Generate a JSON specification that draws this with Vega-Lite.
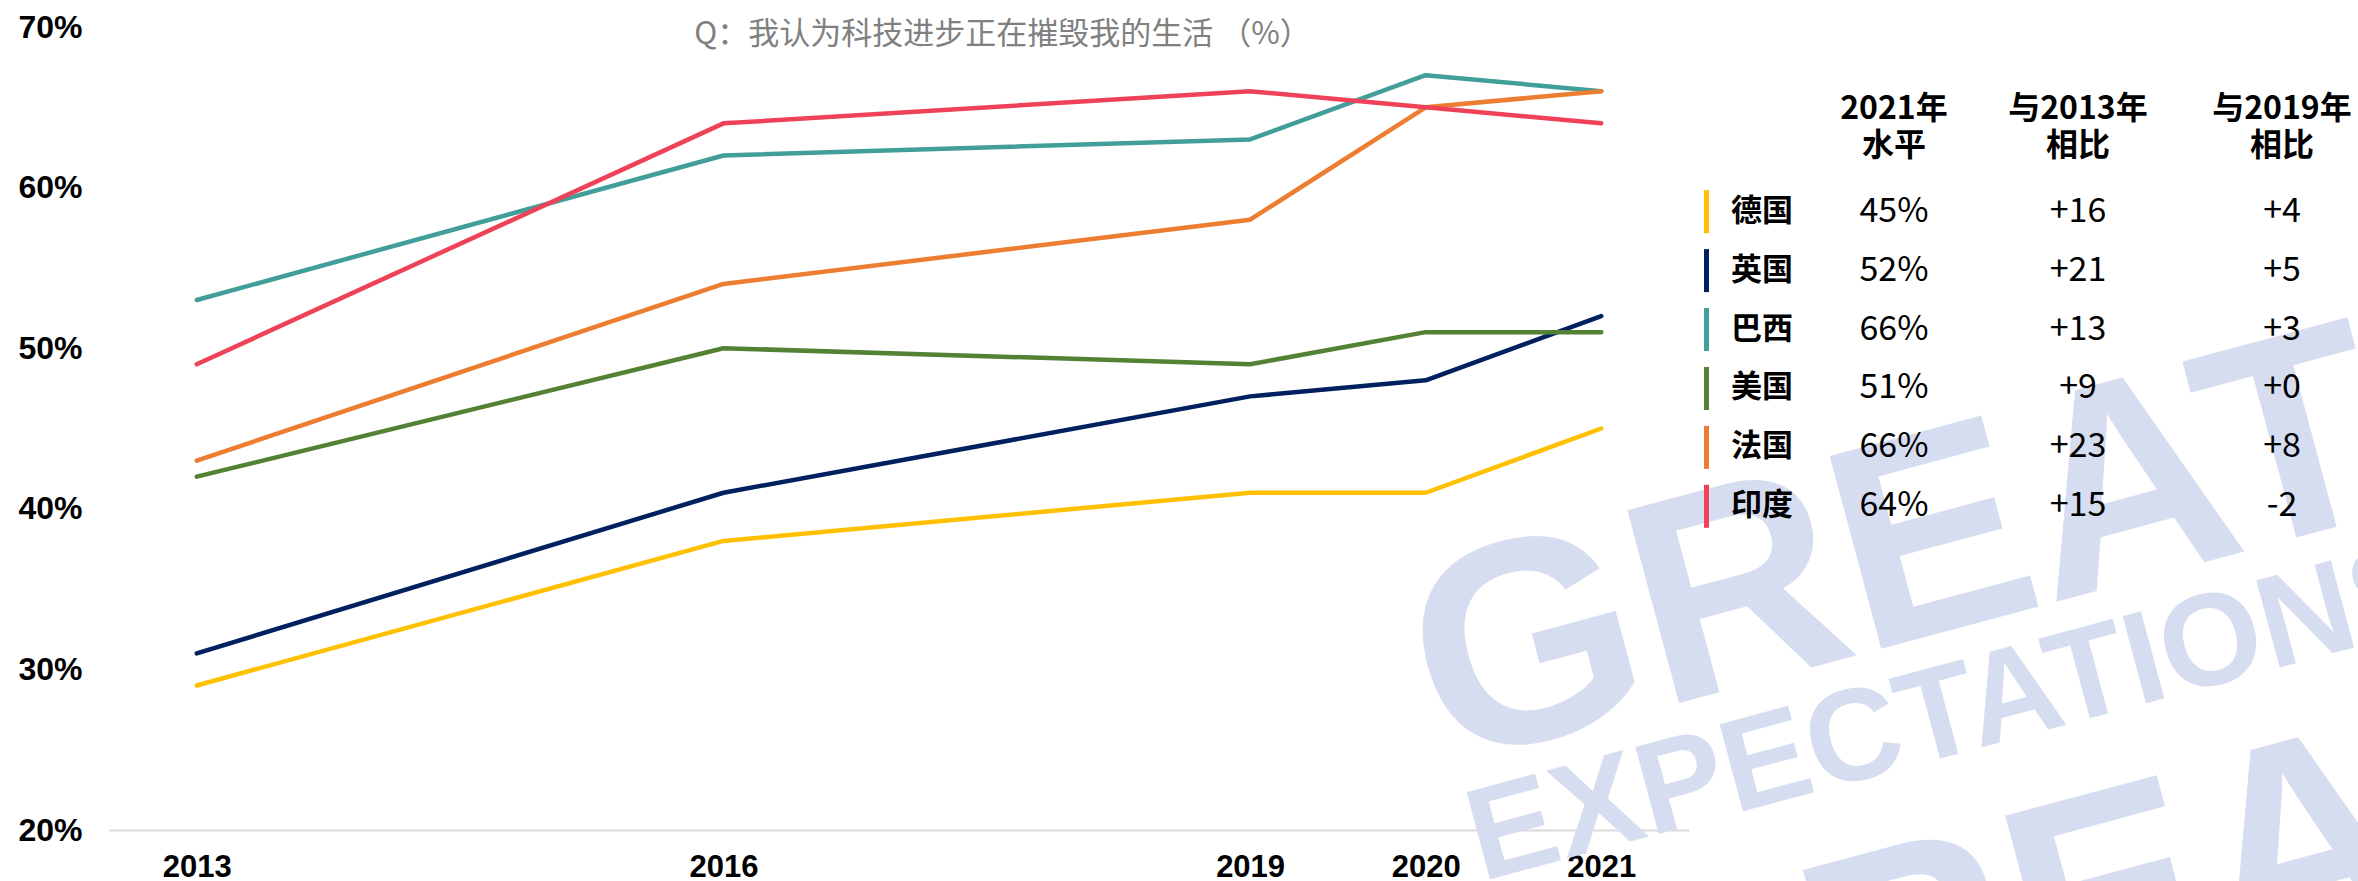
{
  "$schema": "https://vega.github.io/schema/vega-lite/v6.json",
  "padding": {"left": 17, "top": 11, "right": 0, "bottom": 0},
  "background": "white",
  "config": {"view": {"stroke": null}},
  "datasets": {
    "trend": [
      {"country": "德国", "year": 2013, "pct": 29}, {"country": "德国", "year": 2016, "pct": 38}, {"country": "德国", "year": 2019, "pct": 41}, {"country": "德国", "year": 2020, "pct": 41}, {"country": "德国", "year": 2021, "pct": 45},
      {"country": "英国", "year": 2013, "pct": 31}, {"country": "英国", "year": 2016, "pct": 41}, {"country": "英国", "year": 2019, "pct": 47}, {"country": "英国", "year": 2020, "pct": 48}, {"country": "英国", "year": 2021, "pct": 52},
      {"country": "巴西", "year": 2013, "pct": 53}, {"country": "巴西", "year": 2016, "pct": 62}, {"country": "巴西", "year": 2019, "pct": 63}, {"country": "巴西", "year": 2020, "pct": 67}, {"country": "巴西", "year": 2021, "pct": 66},
      {"country": "美国", "year": 2013, "pct": 42}, {"country": "美国", "year": 2016, "pct": 50}, {"country": "美国", "year": 2019, "pct": 49}, {"country": "美国", "year": 2020, "pct": 51}, {"country": "美国", "year": 2021, "pct": 51},
      {"country": "法国", "year": 2013, "pct": 43}, {"country": "法国", "year": 2016, "pct": 54}, {"country": "法国", "year": 2019, "pct": 58}, {"country": "法国", "year": 2020, "pct": 65}, {"country": "法国", "year": 2021, "pct": 66},
      {"country": "印度", "year": 2013, "pct": 49}, {"country": "印度", "year": 2016, "pct": 64}, {"country": "印度", "year": 2019, "pct": 66}, {"country": "印度", "year": 2020, "pct": 65}, {"country": "印度", "year": 2021, "pct": 64}
    ],
    "table": [
      {"country": "德国", "level": "45%", "d2013": "+16", "d2019": "+4"},
      {"country": "英国", "level": "52%", "d2013": "+21", "d2019": "+5"},
      {"country": "巴西", "level": "66%", "d2013": "+13", "d2019": "+3"},
      {"country": "美国", "level": "51%", "d2013": "+9", "d2019": "+0"},
      {"country": "法国", "level": "66%", "d2013": "+23", "d2019": "+8"},
      {"country": "印度", "level": "64%", "d2013": "+15", "d2019": "-2"}
    ],
    "headers": [
      {"col": "level", "label": "2021年\n水平"},
      {"col": "d2013", "label": "与2013年\n相比"},
      {"col": "d2019", "label": "与2019年\n相比"}
    ]
  },
  "spacing": 15,
  "bounds": "flush",
  "resolve": {"scale": {"x": "independent", "y": "independent", "color": "independent"}},
  "hconcat": [
    {
      "width": 1580,
      "height": 803,
      "layer": [
        {
          "data": {"values": [{}]},
          "mark": {"type": "text", "text": "GREAT", "font": "Liberation Sans", "fontWeight": "bold", "fontSize": 290, "angle": -15, "color": "#d7ddf0", "align": "center", "baseline": "middle"},
          "encoding": {
            "x": {"datum": 2022.7, "type": "quantitative", "scale": {"domain": [2012.5, 2021.5], "nice": false, "zero": false}},
            "y": {"datum": 37.2, "type": "quantitative", "scale": {"domain": [20, 70], "nice": false, "zero": false}}
          }
        },
        {
          "data": {"values": [{}]},
          "mark": {"type": "text", "text": "EXPECTATIONS", "font": "Liberation Sans", "fontWeight": "bold", "fontSize": 131, "angle": -15, "color": "#d7ddf0", "align": "center", "baseline": "middle"},
          "encoding": {
            "x": {"datum": 2023.01, "type": "quantitative", "scale": {"domain": [2012.5, 2021.5], "nice": false, "zero": false}},
            "y": {"datum": 27.2, "type": "quantitative", "scale": {"domain": [20, 70], "nice": false, "zero": false}}
          }
        },
        {
          "data": {"values": [{}]},
          "mark": {"type": "text", "text": "GREAT", "font": "Liberation Sans", "fontWeight": "bold", "fontSize": 290, "angle": -15, "color": "#d7ddf0", "align": "center", "baseline": "middle"},
          "encoding": {
            "x": {"datum": 2023.7, "type": "quantitative", "scale": {"domain": [2012.5, 2021.5], "nice": false, "zero": false}},
            "y": {"datum": 14.8, "type": "quantitative", "scale": {"domain": [20, 70], "nice": false, "zero": false}}
          }
        },
        {
          "data": {"name": "trend"},
          "mark": {"type": "line", "strokeWidth": 4.5, "strokeCap": "round", "strokeJoin": "round"},
          "encoding": {
            "x": {
              "field": "year", "type": "quantitative",
              "scale": {"domain": [2012.5, 2021.5], "nice": false, "zero": false},
              "axis": {"values": [2013, 2016, 2019, 2020, 2021], "format": "d", "title": null, "ticks": false, "grid": false, "domain": true, "domainColor": "#d9d9d9", "domainWidth": 2, "labelFont": "Liberation Sans", "labelFontSize": 31, "labelFontWeight": "bold", "labelColor": "#000000", "labelPadding": 22, "labelFlush": false, "labelOverlap": false}
            },
            "y": {
              "field": "pct", "type": "quantitative",
              "scale": {"domain": [20, 70], "nice": false, "zero": false},
              "axis": {"values": [20, 30, 40, 50, 60, 70], "labelExpr": "datum.value + '%'", "title": null, "ticks": false, "grid": false, "domain": false, "labelFont": "Liberation Sans", "labelFontSize": 32, "labelFontWeight": "bold", "labelColor": "#000000", "labelPadding": 27, "labelFlush": false, "labelOverlap": false}
            },
            "color": {
              "field": "country", "type": "nominal",
              "scale": {"domain": ["德国", "英国", "巴西", "美国", "法国", "印度"], "range": ["#FFC000", "#002060", "#429E99", "#548235", "#ED7D31", "#EF4259"]},
              "legend": null
            }
          }
        },
        {
          "data": {"values": [{}]},
          "mark": {"type": "text", "text": "Q：我认为科技进步正在摧毁我的生活 （%）", "font": "Noto Sans CJK SC", "fontSize": 31, "color": "#808080", "align": "center", "baseline": "middle"},
          "encoding": {
            "x": {"datum": 2017.59, "type": "quantitative", "scale": {"domain": [2012.5, 2021.5], "nice": false, "zero": false}},
            "y": {"datum": 69.5, "type": "quantitative", "scale": {"domain": [20, 70], "nice": false, "zero": false}}
          }
        }
      ]
    },
    {
      "spacing": 0,
      "vconcat": [
        {
          "spacing": 0,
          "bounds": "flush",
          "hconcat": [
            {
              "width": 111,
              "height": 163,
              "data": {"values": [{}]},
              "mark": {"type": "text"},
              "encoding": {"text": {"value": ""}}
            },
            {
              "width": 158,
              "height": 163,
              "data": {"name": "headers"},
              "transform": [{"filter": "datum.col === 'level'"}],
              "mark": {"type": "text", "font": "Noto Sans CJK SC", "fontWeight": "bold", "fontSize": 32, "lineHeight": 37, "lineBreak": "\n", "color": "#000000", "align": "center", "baseline": "middle"},
              "encoding": {"text": {"field": "label", "type": "nominal"}}
            },
            {
              "width": 210,
              "height": 163,
              "data": {"name": "headers"},
              "transform": [{"filter": "datum.col === 'd2013'"}],
              "mark": {"type": "text", "font": "Noto Sans CJK SC", "fontWeight": "bold", "fontSize": 32, "lineHeight": 37, "lineBreak": "\n", "color": "#000000", "align": "center", "baseline": "middle"},
              "encoding": {"text": {"field": "label", "type": "nominal"}}
            },
            {
              "width": 198,
              "height": 163,
              "data": {"name": "headers"},
              "transform": [{"filter": "datum.col === 'd2019'"}],
              "mark": {"type": "text", "font": "Noto Sans CJK SC", "fontWeight": "bold", "fontSize": 32, "lineHeight": 37, "lineBreak": "\n", "color": "#000000", "align": "center", "baseline": "middle"},
              "encoding": {"text": {"field": "label", "type": "nominal"}}
            }
          ]
        },
        {
          "spacing": 0,
          "bounds": "flush",
          "hconcat": [
            {
              "width": 5,
              "height": 330,
              "data": {"name": "table"},
              "mark": {"type": "tick", "orient": "vertical", "size": 43, "thickness": 5, "opacity": 1},
              "encoding": {
                "y": {"field": "country", "type": "nominal", "scale": {"type": "point", "domain": ["德国", "英国", "巴西", "美国", "法国", "印度"], "padding": 0.3}, "axis": null},
                "color": {"field": "country", "type": "nominal", "scale": {"domain": ["德国", "英国", "巴西", "美国", "法国", "印度"], "range": ["#FFC000", "#002060", "#429E99", "#548235", "#ED7D31", "#EF4259"]}, "legend": null}
              }
            },
            {
              "width": 106,
              "height": 330,
              "data": {"name": "table"},
              "mark": {"type": "text", "font": "Noto Sans CJK SC", "fontWeight": "bold", "fontSize": 31, "color": "#000000", "align": "center", "baseline": "middle"},
              "encoding": {
                "y": {"field": "country", "type": "nominal", "scale": {"type": "point", "domain": ["德国", "英国", "巴西", "美国", "法国", "印度"], "padding": 0.3}, "axis": null},
                "text": {"field": "country", "type": "nominal"}
              }
            },
            {
              "width": 158,
              "height": 330,
              "data": {"name": "table"},
              "mark": {"type": "text", "font": "Noto Sans CJK SC", "fontSize": 34, "color": "#000000", "align": "center", "baseline": "middle"},
              "encoding": {
                "y": {"field": "country", "type": "nominal", "scale": {"type": "point", "domain": ["德国", "英国", "巴西", "美国", "法国", "印度"], "padding": 0.3}, "axis": null},
                "text": {"field": "level", "type": "nominal"}
              }
            },
            {
              "width": 210,
              "height": 330,
              "data": {"name": "table"},
              "mark": {"type": "text", "font": "Noto Sans CJK SC", "fontSize": 34, "color": "#000000", "align": "center", "baseline": "middle"},
              "encoding": {
                "y": {"field": "country", "type": "nominal", "scale": {"type": "point", "domain": ["德国", "英国", "巴西", "美国", "法国", "印度"], "padding": 0.3}, "axis": null},
                "text": {"field": "d2013", "type": "nominal"}
              }
            },
            {
              "width": 198,
              "height": 330,
              "data": {"name": "table"},
              "mark": {"type": "text", "font": "Noto Sans CJK SC", "fontSize": 34, "color": "#000000", "align": "center", "baseline": "middle"},
              "encoding": {
                "y": {"field": "country", "type": "nominal", "scale": {"type": "point", "domain": ["德国", "英国", "巴西", "美国", "法国", "印度"], "padding": 0.3}, "axis": null},
                "text": {"field": "d2019", "type": "nominal"}
              }
            }
          ]
        }
      ]
    }
  ]
}
